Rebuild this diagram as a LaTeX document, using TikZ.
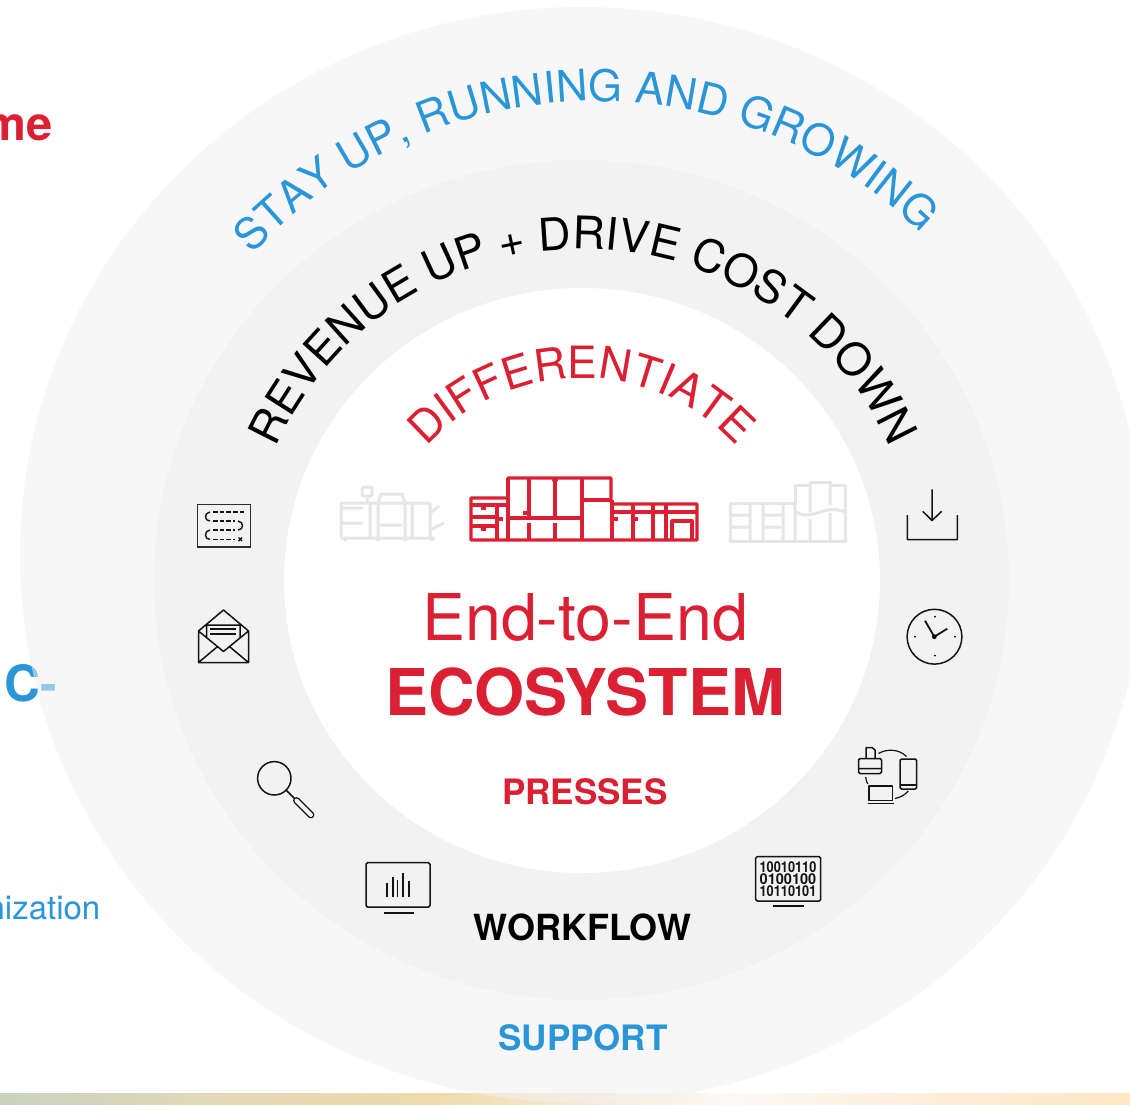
\documentclass[tikz,border=0pt]{standalone}
\usepackage{fontspec}
\setmainfont{TeX Gyre Heros}
\usetikzlibrary{decorations.text}
\definecolor{redx}{RGB}{220,32,51}
\definecolor{bluex}{RGB}{42,150,216}
\definecolor{midg}{RGB}{242,242,242}
\definecolor{outg}{RGB}{242,242,242}
\definecolor{ghost}{RGB}{230,230,230}
\definecolor{inkx}{RGB}{20,20,20}
\newcommand{\fsz}[1]{\fontsize{#1}{#1}\selectfont}
\tikzset{
  lbl/.style={inner sep=0pt,anchor=base,font=\fsz{35}\bfseries},
  icon/.style={draw=inkx,line width=1.5pt,line join=round},
  press/.style={draw=redx,line width=3.1pt,line join=round},
  ghostp/.style={draw=ghost,line width=3pt,line join=round},
  arctext/.style={decorate,decoration={text along path,text align=center,text={#1}}}
}
\begin{document}
\begin{tikzpicture}[x=1pt,y=-1pt]
\useasboundingbox (0,0) rectangle (1130,1104);
\clip (0,0) rectangle (1130,1104);
\fill[white] (0,0) rectangle (1130,1104);
% bottom band
\shade[left color={rgb,255:red,200;green,210;blue,190},right color={rgb,255:red,226;green,217;blue,184}] (0,1093) rectangle (210,1104);
\shade[left color={rgb,255:red,226;green,217;blue,184},right color={rgb,255:red,238;green,218;blue,172}] (210,1093) rectangle (430,1104);
\shade[left color={rgb,255:red,238;green,218;blue,172},right color={rgb,255:red,252;green,250;blue,246}] (430,1093) rectangle (730,1104);
\shade[left color={rgb,255:red,252;green,250;blue,246},right color={rgb,255:red,253;green,238;blue,218}] (730,1093) rectangle (920,1104);
\shade[left color={rgb,255:red,253;green,238;blue,218},right color={rgb,255:red,253;green,230;blue,195}] (920,1093) rectangle (1130,1104);
% cropped left texts
\node[inner sep=0pt,anchor=base east,font=\fsz{47}\bfseries,text=redx] (tme) at (53,140) {me};
\node[inner sep=0pt,anchor=base east,font=\fsz{50}\bfseries,text=bluex] (tc) at (57,701) {C-};
\node[inner sep=0pt,anchor=base east,font=\fsz{33},text=bluex] (tn) at (100.5,919) {nization};
% rings
\fill[outg,opacity=.55] (582,555) ellipse [x radius=562,y radius=548];
\fill[midg] (581.5,580) ellipse [x radius=427.5,y radius=420];
\fill[white] (582,580.5) ellipse [x radius=298,y radius=292.5];
% curved headings
\path[arctext={|\fsz{43.5}\color{bluex}|STAY UP, RUNNING AND GROWING}]
  plot[domain=176.8:6.8,samples=90] ({597+463*cos(\x)},{564-463*sin(\x)});
\path[arctext={|\fsz{45}\color{black}|REVENUE UP + DRIVE COST DOWN}]
  plot[domain=175:5,samples=90] ({583+337*cos(\x)},{586-337*sin(\x)});
\path[arctext={|\fsz{44.5}\color{redx}|DIFFERENTIATE}]
  plot[domain=175:5,samples=90] ({581.5+210*cos(\x)},{588-210*sin(\x)});
% centre text
\node[lbl,font=\fsz{64.5},text=redx] (t1) at (585,640) {End-to-End};
\node[lbl,font=\fsz{64.5}\bfseries,text=redx] (t2) at (585,715) {ECOSYSTEM};
\node[lbl,text=redx] (t3) at (585,804.5) {PRESSES};
\node[lbl,font=\fsz{36}\bfseries,text=black] (t4) at (582.5,940) {WORKFLOW};
\node[lbl,text=bluex] (t5) at (583,1050.5) {SUPPORT};
% red press
\draw[press] (471,498)--(508,498)--(508,478)--(611,478)--(611,500)--(613,504)--(697,504)--(697,540)--(471,540)--cycle;
\draw[press] (471,505)--(508,505) (497,505)--(497,540) (471,517)--(497,517) (471,526)--(497,526)
  (481,508)--(486,508) (481,529)--(486,529) (497,519)--(503,519)
  (508,478)--(508,540) (508,518)--(581,518) (529,478)--(529,518) (529,523)--(529,540)
  (555,478)--(555,518) (555,523)--(555,540) (523,513)--(529,513)
  (582,478)--(582,540) (582,500)--(611,500) (612,500)--(612,540)
  (613,512)--(697,512) (633,504)--(633,540) (653,504)--(653,540) (666,504)--(666,540)
  (613,519)--(618,519) (633,519)--(638,519) (672,540)--(672,521)--(692,521)--(692,540);
\fill[redx] (555,480) circle [radius=3];
% left ghost press
\draw[ghostp] (341,538)--(341,503)--(430,503)--(430,538) (341,538)--(435,538)
  (370,503)--(370,538) (378,503)--(378,538) (378,503)--(381,494)--(402,494)--(405,503)
  (405,503)--(405,538) (412,503)--(412,538)
  (341,508)--(363,508) (341,523)--(363,523) (380,525)--(402,525)
  (367,496)--(367,503) (430,513)--(439,506) (430,530)--(444,523)
  (345,538)--(345,541) (378,538)--(378,541) (405,538)--(405,541) (432,538)--(432,541);
\draw[ghostp,rounded corners=1.5pt] (362,487) rectangle (372,496);
% right ghost press
\draw[ghostp] (730,503)--(795,503)--(795,485)--(810,485)--(810,482)--(830,482)--(830,485)--(845,485)--(845,541)--(730,541)--cycle;
\draw[ghostp] (750,503)--(750,541) (763,503)--(763,541) (783,503)--(783,541) (795,503)--(795,541)
  (730,515)--(750,515) (730,527)--(750,527) (763,515)--(783,515) (763,527)--(783,527)
  (810,482)--(810,512) (810,519)--(810,541) (830,482)--(830,505) (830,513)--(830,541)
  (796,512) .. controls (812,522) and (824,503) .. (845,512);
% checklist icon
\draw[draw=inkx!90,line width=1.7pt] (197.5,504.5) rectangle (250.5,547);
\draw[icon,line width=1.4pt,dash pattern=on 4.5pt off 2.2pt]
  (213,512)--(244,512) (213,521)--(235,521) (213,530)--(235,530) (213,539.5)--(235,539.5);
\draw[icon,line width=1.4pt] (210,512) .. controls (204,512.5) and (204,521) .. (210,521)
  (238,521) .. controls (244,521.5) and (244,530) .. (238,530)
  (210,530) .. controls (204,530.5) and (204,539.5) .. (210,539.5)
  (238.5,537.5)--(242,541) (242,537.5)--(238.5,541);
% envelope icon
\draw[icon] (198.5,631)--(198.5,662.5)--(248.5,662.5)--(248.5,631)--(223.5,610)--cycle
  (198.5,631)--(223.5,651.5)--(248.5,631) (198.5,662.5)--(217,647) (248.5,662.5)--(230,647)
  (206.5,637)--(206.5,625)--(240,625)--(240,637);
\draw[icon] (210,629)--(236,629) (210,634)--(236,634);
% magnifier icon
\draw[icon] (274.3,778.3) circle [radius=16.7] (286.5,790.5)--(295,799);
\draw[inkx,line width=6.8pt,line cap=round] (296.5,800.5)--(311,815);
\draw[midg,line width=4pt,line cap=round] (296.5,800.5)--(311,815);
% chart monitor icon
\draw[icon,rounded corners=1.5pt] (366,862.7) rectangle (430,907);
\draw[icon,line width=1.8pt] (383.5,913)--(414,913);
\draw[icon,line width=1.8pt] (386.7,896.7)--(386.7,883) (392.7,896.7)--(392.7,877) (397.5,896.7)--(397.5,880)
  (403.3,896.7)--(403.3,873) (409,896.7)--(409,881);
% binary monitor icon
\draw[icon,rounded corners=1.5pt] (755.7,856.7) rectangle (820.7,901);
\draw[icon,line width=1.8pt] (772.5,906)--(804,906);
\node[inner sep=0pt,font=\fsz{15}\bfseries,xscale=.85,text=inkx] (b1) at (788,867) {10010110};
\node[inner sep=0pt,font=\fsz{15}\bfseries,xscale=.97,text=inkx] (b2) at (788,879) {0100100};
\node[inner sep=0pt,font=\fsz{15}\bfseries,xscale=.85,text=inkx] (b3) at (788,891.5) {10110101};
% devices icon
\draw[icon,rounded corners=1.5pt] (858.5,758.5) rectangle (881.5,773.5);
\draw[icon] (859,768.5)--(881,768.5) (866,758.5)--(866,747.5)--(872,747.5)--(875,750)--(875,758.5);
\draw[icon,rounded corners=1.5pt] (900,759) rectangle (916.7,789);
\draw[icon] (900,785)--(916.7,785);
\draw[icon] (869,786) rectangle (892.3,800.5) (867.5,803.5)--(893.5,803.5);
\draw[icon,line width=1.2pt] (878.5,753.5) .. controls (887,748.5) and (899,749) .. (906.5,756.5)
  (895,798.5) .. controls (900,797.5) and (905,795) .. (908.3,791)
  (865.7,777) .. controls (866,779.5) and (866.5,782) .. (867.7,784);
% download icon
\draw[icon] (907.3,515)--(907.3,539.5)--(957.3,539.5)--(957.3,515)
  (932,489.3)--(932,520.5) (922.7,511.3)--(932,520.5)--(941.7,511.3);
% clock icon
\draw[icon] (934.5,636.7) circle [radius=27.4];
\draw[icon,line width=1.8pt] (925,620.7)--(934.3,636.7)--(947.3,628.7);
\fill[black] (934.3,636.7) circle [radius=2.4] (935,616.7) circle [radius=1] (955,636.7) circle [radius=1]
  (935,655.7) circle [radius=1] (915,636.7) circle [radius=1];
\end{tikzpicture}
\end{document}
